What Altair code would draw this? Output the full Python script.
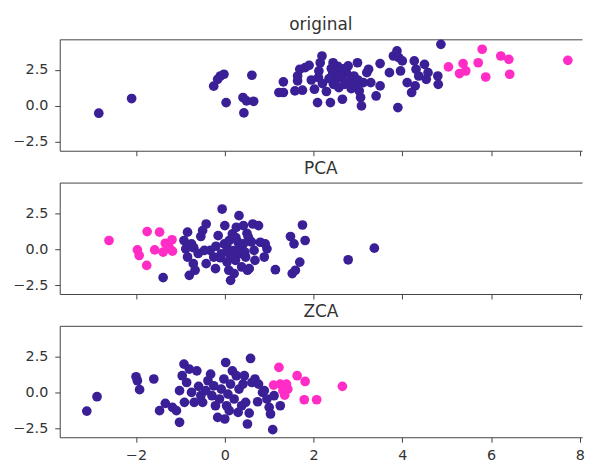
import altair as alt
import pandas as pd

PURPLE = "#3a1f96"
PINK = "#ff2dc6"

# ---- original ----
orig_x = [-2.84, -2.10, -0.25, -0.16, -0.10, -0.02, 0.03, 0.41, 0.43, 0.49, 0.65, 0.61,
          1.22, 1.32, 1.32, 1.58, 1.64, 1.64, 1.69, 1.75, 1.81, 1.90, 2.02, 2.09, 2.11,
          2.12, 2.15, 2.19, 2.29, 2.38, 2.44, 2.43, 2.49, 2.53, 2.57, 2.63, 2.65, 2.70,
          2.74, 2.78, 2.82, 2.91, 2.95, 2.99, 3.03, 3.06, 3.08, 3.12, 3.20, 3.24, 3.29,
          3.41, 3.50, 3.50, 3.71, 3.80, 3.88, 3.92, 3.96, 4.00, 3.90, 4.11, 4.21, 4.29,
          4.27, 4.31, 4.37, 4.50, 4.54, 4.58, 4.80, 4.81, 4.87,
          2.35, 2.60, 2.45, 2.85, 2.20, 2.70, 3.00, 1.95, 2.55, 2.40,
          5.04, 5.29, 5.37, 5.43, 5.71, 5.80, 5.88, 6.22, 6.40, 6.42, 7.73]
orig_y = [-0.51, 0.51, 1.37, 1.85, 2.08, 2.20, 0.23, 0.58, -0.49, 0.35, 0.32, 2.13,
          0.93, 1.67, 0.93, 1.04, 1.74, 2.08, 2.55, 1.09, 2.66, 2.82, 1.16, 0.23, 1.97,
          2.43, 3.00, 3.47, 1.00, 0.23, 3.00, 2.20, 1.74, 2.43, 1.27, 1.97, 0.46, 1.50,
          2.31, 2.78, 1.74, 2.08, 1.39, 3.00, 1.04, 0.58, 0.00, 1.62, 2.31, 2.55, 1.62,
          0.69, 1.39, 2.94, 2.31, 3.47, 3.82, 3.36, 2.43, 3.13, -0.12, 1.62, 0.93, 1.39,
          3.13, 2.55, 2.08, 2.89, 1.85, 2.31, 2.08, 1.50, 4.28,
          1.90, 2.10, 1.50, 1.20, 1.55, 2.60, 1.80, 1.80, 2.75, 2.60,
          2.71, 2.25, 2.94, 2.43, 3.00, 3.94, 2.01, 3.47, 3.24, 2.20, 3.17]
orig_c = ["a"] * 83 + ["b"] * 11

# ---- PCA ----
pca_x = [-1.39, -0.92, -0.88, -0.84, -0.84, -0.80, -0.75, -0.71, -0.67, -0.54, -0.50,
         -0.42, -0.46, -0.42, -0.33, -0.25, -0.21, -0.15, -0.06, -0.08, -0.01, 0.00,
         0.05, 0.09, 0.10, 0.13, 0.17, 0.21, 0.24, 0.26, 0.30, 0.32, 0.34, 0.38, 0.42,
         0.42, 0.47, 0.51, 0.53, 0.55, 0.63, 0.66, 0.68, 0.76, 0.80, 0.89, 0.91, 0.95,
         1.14, 1.48, 1.52, 1.56, 1.59, 1.69, 1.75, 1.81, 2.78, 3.37,
         0.10, 0.20, -0.10, 0.35, 0.05, 0.25, -0.20, 0.45, 0.60, 0.15, 0.50, -0.60, -0.70,
         -2.61, -1.97, -1.93, -1.76, -1.75, -1.58, -1.47, -1.39, -1.34, -1.26, -1.19, -1.18]
pca_y = [-1.98, 0.60, 0.02, 1.18, -0.55, -1.82, 0.37, -1.01, -1.47, 0.88, 1.29,
         1.75, -0.09, -1.01, -0.09, -0.55, -1.36, 0.94, 2.79, -0.32, 0.37, 1.64,
         0.14, -1.47, -0.32, -2.17, 1.06, -1.70, -0.78, 1.52, 0.48, 2.33, -0.32, -1.24, 1.64,
         0.37, -0.55, -1.47, 0.83, -1.36, 1.75, -0.09, -0.78, 1.64, 0.48, -0.55, 0.37, 0.02,
         -1.43, 0.88, -1.70, 0.37, -1.47, -0.90, 1.68, 0.60, -0.74, 0.07,
         0.60, -0.10, -0.60, 0.10, -0.90, 0.80, 0.20, -0.20, 0.50, -0.50, 1.10, -0.30, 0.10,
         0.60, -0.05, -0.44, -1.13, 1.22, -0.05, 1.18, -0.21, 0.41, 0.14, 0.65, -0.14]
pca_c = ["a"] * 71 + ["b"] * 12

# ---- ZCA ----
zca_x = [-3.11, -2.88, -2.00, -1.97, -1.92, -1.60, -1.47, -1.34, -1.18, -1.09, -1.02,
         -1.02, -0.96, -0.92, -0.91, -0.86, -0.80, -0.75, -0.69, -0.63, -0.59, -0.54,
         -0.50, -0.43, -0.38, -0.32, -0.29, -0.25, -0.21, -0.16, -0.12, -0.08, -0.02,
         0.00, 0.02, 0.04, 0.07, 0.10, 0.13, 0.17, 0.21, 0.26, 0.30, 0.32, 0.38, 0.41,
         0.44, 0.47, 0.51, 0.55, 0.58, 0.61, 0.68, 0.74, 0.76, 0.85, 0.89, 0.95, 1.00,
         1.03, 1.08, 1.11, 1.25,
         1.10, 1.22, 1.25, 1.31, 1.35, 1.39, 1.42, 1.63, 1.79, 1.81, 2.07, 2.65]
zca_y = [-1.30, -0.30, 1.09, 0.81, 0.19, 0.93, -1.27, -0.76, -1.04, -1.27, -2.08,
         0.12, 1.16, 1.97, -0.69, 0.69, 1.62, 0.00, -0.69, 1.50, 0.42, -0.23,
         -0.69, 0.12, 0.81, 1.27, -0.23, 0.46, -0.93, -1.74, -0.46, 0.23, 0.93,
         -1.85, 2.08, -0.93, -0.12, -1.27, 0.58, 1.50, -0.46, 1.16, -1.39, 0.23, -0.93, 0.58,
         1.16, -0.69, -2.20, -1.44, 2.36, 0.69, 0.93, -0.65, 0.58, 0.00, 0.12, -0.46, -1.04,
         -1.50, -2.59, -0.23, -0.93,
         0.51, 1.74, 0.58, 0.12, -0.19, 0.58, 0.23, 1.16, -0.51, 0.76, -0.51, 0.42]
zca_c = ["a"] * 63 + ["b"] * 12

X_TICKS = [-2, 0, 2, 4, 6, 8]
Y_TICKS = [-2.5, 0, 2.5]
X_DOMAIN = [-3.72, 8.05]
Y_DOMAIN = [-3.12, 4.63]


def panel(xs, ys, cs, title, show_labels):
    df = pd.DataFrame({"x": xs, "y": ys, "c": cs})
    base = alt.Chart(df)
    xscale = alt.Scale(domain=X_DOMAIN, nice=False, zero=False)
    yscale = alt.Scale(domain=Y_DOMAIN, nice=False, zero=False)
    yaxis = alt.Axis(values=Y_TICKS, format=".1f", title=None, domain=True)
    pts = base.mark_circle(size=95, opacity=1).encode(
        x=alt.X("x:Q", scale=xscale,
                axis=alt.Axis(values=X_TICKS, labels=show_labels, format="d",
                              title=None, domain=True)),
        y=alt.Y("y:Q", scale=yscale, axis=yaxis),
        color=alt.Color("c:N",
                        scale=alt.Scale(domain=["a", "b"], range=[PURPLE, PINK]),
                        legend=None),
    )
    top = base.mark_circle(opacity=0).encode(
        x=alt.X("x:Q", scale=xscale,
                axis=alt.Axis(orient="top", labels=False, ticks=False, domain=True,
                              title=None)),
        y=alt.Y("y:Q", scale=yscale, axis=yaxis),
    )
    return (
        alt.layer(pts, top, title=alt.TitleParams(title))
        .resolve_axis(x="independent")
        .properties(width=525, height=112)
    )


chart = (
    alt.vconcat(
        panel(orig_x, orig_y, orig_c, "original", False),
        panel(pca_x, pca_y, pca_c, "PCA", False),
        panel(zca_x, zca_y, zca_c, "ZCA", True),
        spacing=3,
    )
    .properties(padding={"left": 5, "top": 7.3, "right": 0, "bottom": 0})
    .configure_view(stroke=None)
    .configure_axis(grid=False, domainColor="#444444", domainWidth=1,
                    tickColor="#444444", tickSize=5,
                    tickWidth=1, labelFont="DejaVu Sans", labelFontSize=14.4,
                    labelColor="#333333", labelPadding=7)
    .configure_axisX(labelPadding=6)
    .configure_title(font="DejaVu Sans", fontSize=17, color="#333333",
                     fontWeight="normal", baseline="bottom", offset=5)
)

chart.save("out.html", embed_options={"renderer": "svg", "actions": False})
